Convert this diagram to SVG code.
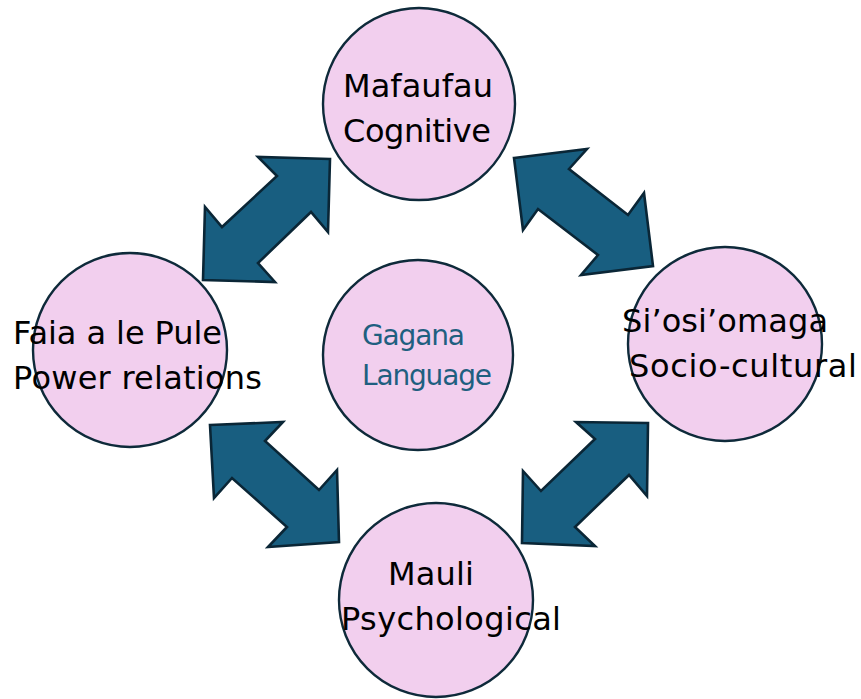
<svg xmlns="http://www.w3.org/2000/svg" width="861" height="699" viewBox="0 0 861 699">
<style>
.node circle{fill:#f2cfee;stroke:#0e2a3a;stroke-width:2.4}
.lbl{font-family:"DejaVu Sans","Liberation Sans",sans-serif;font-size:32px;fill:#000}
.lbl2{font-family:"DejaVu Sans","Liberation Sans",sans-serif;font-size:28px;fill:#1f5f80}
.arr{fill:#185e80;stroke:#0a2636;stroke-width:2.6;stroke-linejoin:miter}
</style>
<rect width="861" height="699" fill="#fff"/>
<g id="connectors">
<polygon class="arr" points="330,159 258,157 277,176 222,227 205,207 203,280 275,282 258,263 311,212 328,232"/>
<polygon class="arr" points="514,158 587,149 569,169 628,215 644,193 653,266 581,275 598,255 538,209 523,230"/>
<polygon class="arr" points="210,425 283,422 265,441 319,490 337,470 339,542 268,547 287,527 232,478 214,498"/>
<polygon class="arr" points="648,423 576,422 595,439 541,491 523,471 522,543 595,546 575,527 629,475 647,496"/>
</g>
<g id="node-mafaufau" class="node">
<circle cx="419" cy="104" r="96"/>
<text class="lbl" x="343" y="97" textLength="150">Mafaufau</text>
<text class="lbl" x="343" y="142" textLength="148">Cognitive</text>
</g>
<g id="node-faia" class="node">
<circle cx="130" cy="350" r="97"/>
<text class="lbl" x="13" y="344" textLength="209">Faia a le Pule</text>
<text class="lbl" x="13" y="389" textLength="249">Power relations</text>
</g>
<g id="node-gagana" class="node">
<circle cx="418" cy="355" r="95"/>
<text class="lbl2" x="362" y="345" textLength="103">Gagana</text>
<text class="lbl2" x="362" y="385" textLength="130">Language</text>
</g>
<g id="node-siosiomaga" class="node">
<circle cx="725" cy="344" r="97"/>
<text class="lbl" x="622" y="332" textLength="206">Si’osi’omaga</text>
<text class="lbl" x="629" y="377" textLength="228">Socio-cultural</text>
</g>
<g id="node-mauli" class="node">
<circle cx="436" cy="600" r="97"/>
<text class="lbl" x="388" y="585" textLength="86">Mauli</text>
<text class="lbl" x="341" y="630" textLength="220">Psychological</text>
</g>
</svg>
